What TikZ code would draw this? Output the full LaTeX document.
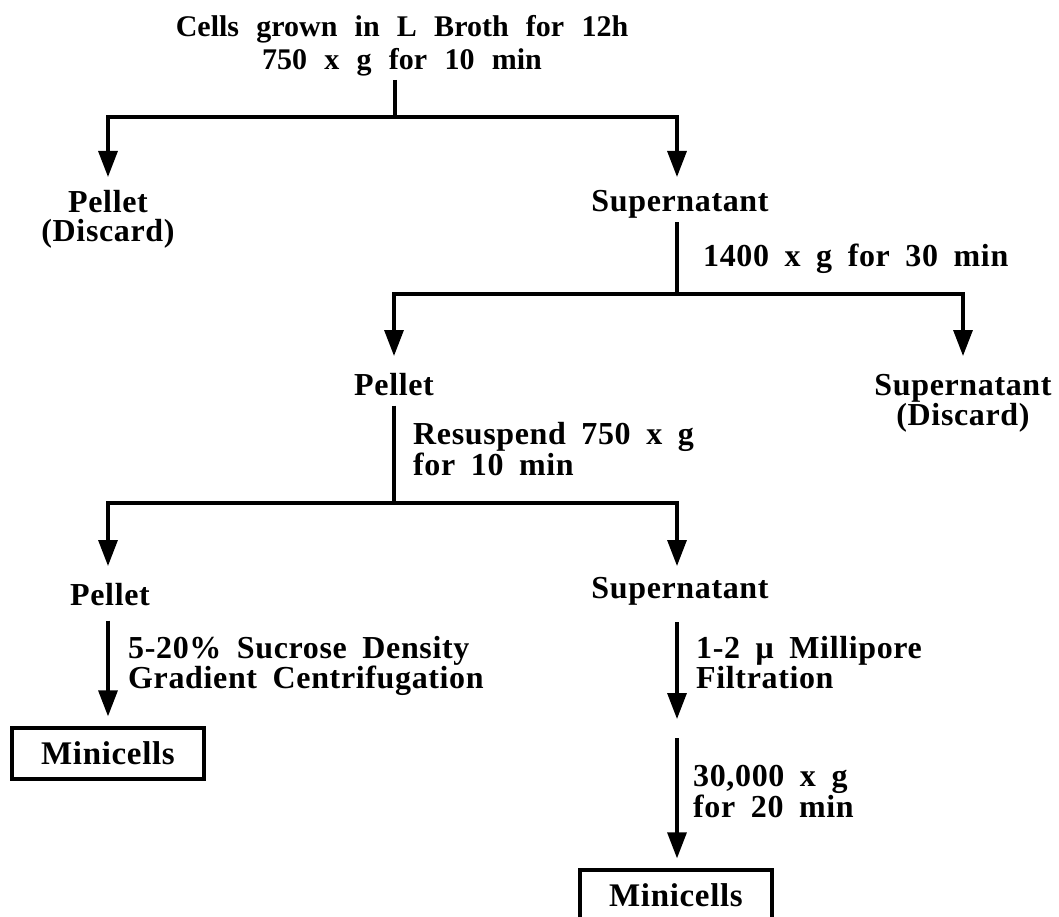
\documentclass[tikz,border=0pt]{standalone}
\usepackage{fontspec}
\setmainfont{Liberation Serif}[WordSpace=1.8, LetterSpace=2]
\newfontfamily\headfont{Liberation Serif}[WordSpace=2.3]
\usetikzlibrary{arrows.meta}

\begin{document}
\begin{tikzpicture}[x=1pt,y=-1pt,
    stem/.style={line width=3.3pt},
    flow/.style={stem, -{Triangle[length=26pt,width=19pt]}},
    txt/.style={inner sep=0pt, anchor=base,
        font=\fontsize{32}{29.5}\selectfont\bfseries},
    note/.style={txt, anchor=base west, align=left},
    result/.style={draw, line width=3.3pt, minimum width=192pt,
        minimum height=51pt, inner sep=0pt,
        font=\fontsize{33}{30}\selectfont\bfseries}
    ]
    \useasboundingbox (0,0) rectangle (1059,917);

    % First spin (two-line nodes sit on their last line)
    \node[txt, align=center, font=\headfont\fontsize{30}{33}\selectfont\bfseries]
        (cells) at (402,70) {Cells grown in L Broth for 12h\\750 x g for 10 min};
    \coordinate (j1) at (395,117);
    \coordinate (t1a) at (108,177);
    \coordinate (t1b) at (677,177);
    \draw[stem, shorten <=3pt] (cells.south -| j1) -- (j1);
    \draw[flow] (j1) -| (t1a);
    \draw[flow] (j1) -| (t1b);
    \node[txt, align=center] (pel1) at (108,242) {Pellet\\(Discard)};
    \node[txt] (sup1) at (680,212) {Supernatant};

    % Second spin
    \coordinate (j2) at (677,294);
    \coordinate (t2a) at (394,356);
    \coordinate (t2b) at (963,356);
    \draw[stem, shorten <=3pt] (sup1.south -| j2) -- (j2);
    \node[note] (spin1) at (703,266) {1400 x g for 30 min};
    \draw[flow] (j2) -| (t2a);
    \draw[flow] (j2) -| (t2b);
    \node[txt] (pel2) at (394,395) {Pellet};
    \node[txt, align=center] (sup2) at (963,425) {Supernatant\\(Discard)};

    % Third spin
    \coordinate (j3) at (394,503);
    \coordinate (t3a) at (108,566);
    \coordinate (t3b) at (677,566);
    \draw[stem, shorten <=10pt] (pel2.south) -- (j3);
    \node[note] (res) at (413,475) {Resuspend 750 x g\\for 10 min};
    \draw[flow] (j3) -| (t3a);
    \draw[flow] (j3) -| (t3b);
    \node[txt] (pel3) at (110,605) {Pellet};
    \node[txt] (sup3) at (680,598) {Supernatant};

    % Minicells, left: sucrose gradient
    \node[result] (mini1) at (108,753.5) {Minicells};
    \draw[flow, shorten <=15pt, shorten >=10pt] (pel3.south -| mini1) -- (mini1);
    \node[note] (suc) at (128,688) {5-20\% Sucrose Density\\Gradient Centrifugation};

    % Minicells, right: filtration and spin
    \coordinate (f1) at (677,719);
    \coordinate (f2) at (677,738);
    \node[result] (mini2) at (676,895.5) {Minicells};
    \draw[flow, shorten <=17pt] (sup3.south -| f1) -- (f1);
    \node[note] (mil) at (696,688) {1-2 μ Millipore\\Filtration};
    \draw[flow, shorten >=10pt] (f2) -- (mini2.north -| f2);
    \node[note] (spin3) at (693,817) {30,000 x g\\for 20 min};

\end{tikzpicture}
\end{document}
